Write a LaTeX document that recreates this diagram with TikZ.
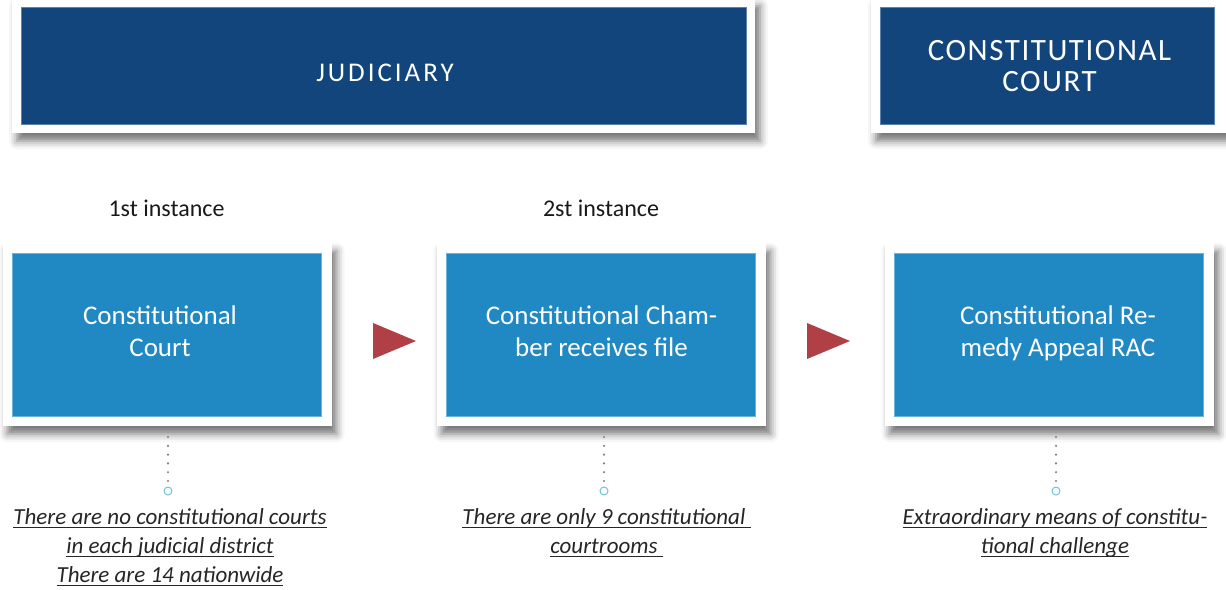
\documentclass[tikz,border=0pt]{standalone}
\usepackage{fontspec}
\setmainfont{Carlito}
\usetikzlibrary{shadows.blur}

\definecolor{navy}{HTML}{11457C}
\definecolor{navyedge}{HTML}{5A82AE}
\definecolor{steel}{HTML}{2088C2}
\definecolor{steeledge}{HTML}{6AB2DA}
\definecolor{pointer}{HTML}{B04045}
\definecolor{ringc}{HTML}{6CC5E0}
\definecolor{ink}{HTML}{262626}
\definecolor{dotgray}{HTML}{808080}

% underline at a fixed depth below the baseline
\newcommand\undl[1]{\setbox0\hbox{#1}\rlap{\copy0}\rule[-3.2pt]{\wd0}{1.2pt}}

\begin{document}
\begin{tikzpicture}[x=1pt,y=-1pt,
  frame/.style={fill=white, draw=none, inner sep=0pt,
    blur shadow={shadow xshift=5pt, shadow yshift=-8pt,
      shadow blur radius=8pt, shadow opacity=55}},
  headbox/.style={fill=navy, draw=navyedge, line width=0.8pt, inner sep=0pt},
  stepbox/.style={fill=steel, draw=steeledge, line width=0.8pt, inner sep=0pt,
    minimum width=309pt, minimum height=163pt},
  stepframe/.style={frame, minimum width=329pt, minimum height=183pt},
  headtxt/.style={text=white, anchor=base, align=center, inner sep=0pt},
  boxtxt/.style={text=white, anchor=base, align=center, inner sep=0pt,
    font=\fontsize{27}{31.7}\selectfont},
  instlabel/.style={text=black!90, anchor=base, inner sep=0pt,
    font=\fontsize{24}{28}\selectfont},
  note/.style={text=ink, anchor=base, align=center, inner sep=0pt,
    font=\fontsize{23}{29}\selectfont\itshape},
  dotline/.style={dotgray, line width=2.4pt, line cap=round,
    dash pattern=on 0pt off 8.8pt},
  ring/.style={circle, draw=ringc, fill=white, line width=1pt,
    inner sep=0pt, minimum size=8pt},
  pointer/.style={fill=pointer}
]
\useasboundingbox (0,0) rectangle (1226,589);

% header frames
\node[frame, minimum width=743pt, minimum height=135pt] (hf1) at (383.5,65.5) {};
\node[headbox, minimum width=725pt, minimum height=117pt] (hb1) at (383.5,65.5) {};
\node[frame, minimum width=359pt, minimum height=135pt] (hf2) at (1050.5,65.5) {};
\node[headbox, minimum width=334pt, minimum height=117pt] (hb2) at (1047,65.5) {};

% header titles (anchored on the last baseline)
\node[headtxt, font=\fontsize{27}{30}\selectfont\addfontfeatures{LetterSpace=11}]
  (ht1) at (385,81) {JUDICIARY};
\node[headtxt, font=\fontsize{31}{30.5}\selectfont\addfontfeatures{LetterSpace=5}]
  (ht2) at (1049.5,91) {CONSTITUTIONAL\\COURT};

% instance labels
\node[instlabel] (l1) at (166.5,216.7) {1st instance};
\node[instlabel] (l2) at (601,216.7) {2st instance};

% step boxes
\node[stepframe] (f1) at (167,334.5) {};
\node[stepbox] (b1) at (166.5,334.5) {};
\node[stepframe] (f2) at (601,334.5) {};
\node[stepbox] (b2) at (601,334.5) {};
\node[stepframe] (f3) at (1049,334.5) {};
\node[stepbox] (b3) at (1049,334.5) {};

\node[boxtxt] (t1) at (160,356) {Constitutional\\Court};
\node[boxtxt] (t2) at (601.5,356) {Constitutional Cham-\\ber receives file};
\node[boxtxt] (t3) at (1058,356) {Constitutional Re-\\medy Appeal RAC};

% pointers between steps
\fill[pointer] (373,323) -- (373,359) -- (416,341) -- cycle;
\fill[pointer] (807,323) -- (807,359) -- (850,341) -- cycle;

% dotted leaders with end rings
\node[ring] (c1) at (168,491) {};
\node[ring] (c2) at (604,491) {};
\node[ring] (c3) at (1056,491) {};
\coordinate (d1) at (168,437);
\coordinate (d2) at (604,437);
\coordinate (d3) at (1056,437);
\draw[dotline] (d1) -- ([yshift=1pt]c1.north);
\draw[dotline] (d2) -- ([yshift=1pt]c2.north);
\draw[dotline] (d3) -- ([yshift=1pt]c3.north);

% notes (anchored on the last baseline)
\node[note] (n1) at (170,582.5)
  {\undl{There are no constitutional courts}\\\undl{in each judicial district}\\\undl{There are 14 nationwide}};
\node[note] (n2) at (606.5,553.5)
  {\undl{There are only 9 constitutional\ }\\\undl{courtrooms\ }};
\node[note] (n3) at (1055,553.5)
  {\undl{Extraordinary means of constitu-}\\\undl{tional challenge}};
\end{tikzpicture}
\end{document}
